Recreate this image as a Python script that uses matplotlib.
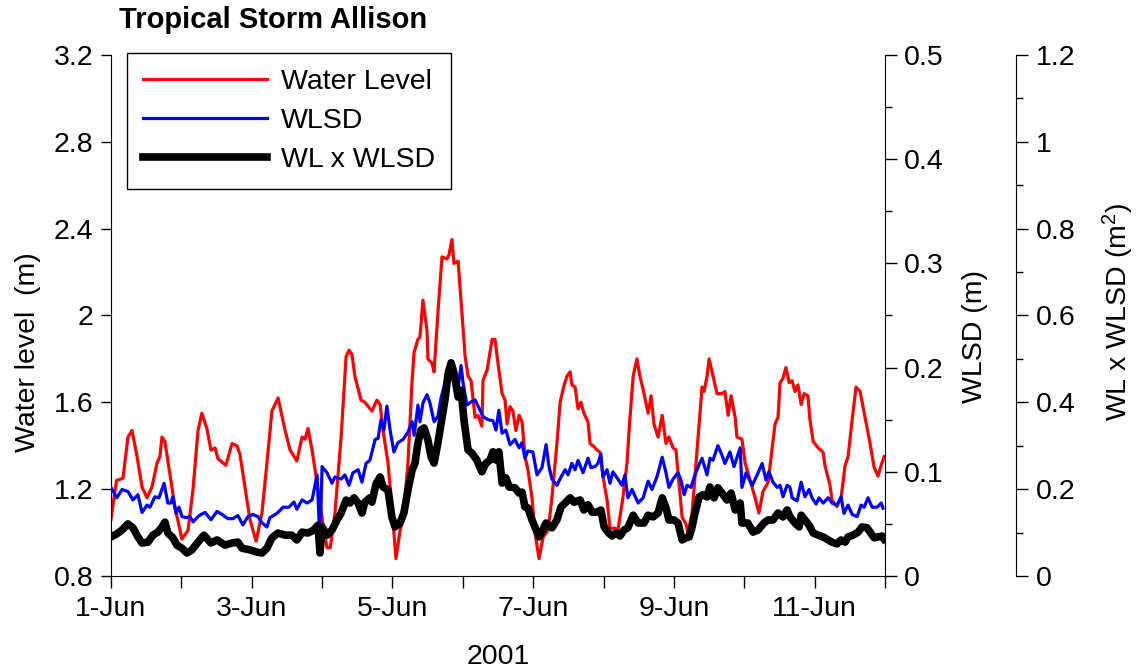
import numpy as np
import matplotlib
matplotlib.use("Agg")
import matplotlib.pyplot as plt
from matplotlib.ticker import MultipleLocator, FuncFormatter

plt.rcParams['font.family'] = ['Liberation Sans', 'DejaVu Sans']
plt.rcParams['mathtext.fontset'] = 'custom'
plt.rcParams['mathtext.rm'] = 'Liberation Sans'
plt.rcParams['mathtext.it'] = 'Liberation Sans'

# hours since 1-Jun 00:00 (2001)
wl_hours = [0.0, 1.9, 4.1, 5.8, 7.2, 8.9, 10.6, 12.3, 14.0, 15.7, 16.7, 17.4, 18.4, 20.1,
            21.8, 24.2, 26.3, 28.0, 29.7, 31.0, 32.7, 34.1, 35.5, 36.5, 39.2, 41.3, 43.0,
            44.0, 45.7, 47.4, 49.5, 51.5, 53.2, 54.9, 57.0, 59.4, 61.1, 63.4, 65.2, 66.2,
            67.2, 68.6, 70.6, 72.3, 73.7, 74.8, 76.4, 78.5, 80.2, 81.2, 82.2, 83.2, 85.3,
            86.6, 89.0, 90.7, 91.8, 92.8, 94.5, 95.8, 97.2, 98.6, 99.6, 101.3, 102.7,
            103.4, 104.7, 105.4, 106.4, 107.8, 108.1, 109.5, 110.2, 111.5, 112.9, 114.6,
            115.3, 116.3, 117.0, 118.4, 119.7, 120.8, 121.8, 122.8, 124.2, 125.2, 126.5,
            126.9, 128.3, 130.0, 131.0, 132.0, 133.4, 134.4, 135.1, 136.1, 137.1, 138.1,
            139.2, 140.2, 141.2, 142.2, 143.6, 144.6, 146.0, 147.4, 149.1, 150.4, 152.1,
            153.2, 154.2, 155.5, 156.6, 157.2, 158.3, 159.3, 160.3, 161.3, 162.7, 163.4,
            164.4, 165.8, 166.8, 167.8, 169.2, 170.2, 171.9, 172.9, 174.6, 176.0, 176.7,
            178.1, 179.4, 180.4, 181.5, 183.2, 184.2, 185.2, 186.6, 188.0, 189.3, 190.3,
            191.7, 192.7, 193.7, 194.8, 196.1, 196.8, 198.2, 199.2, 200.2, 201.6, 202.3,
            203.3, 204.0, 205.0, 206.7, 208.4, 209.4, 210.5, 211.5, 212.9, 213.5, 215.2,
            216.3, 218.0, 219.7, 221.0, 222.4, 224.1, 225.5, 226.5, 227.5, 228.2, 229.2,
            230.2, 231.3, 232.3, 233.3, 234.3, 235.4, 236.4, 237.7, 238.4, 239.5, 241.2,
            242.9, 243.5, 245.2, 245.9, 247.6, 249.0, 250.4, 251.4, 252.8, 254.1, 255.5,
            257.2, 258.9, 260.3, 261.6, 262.7, 263.7]
water_level = [1.06, 1.24, 1.25, 1.44, 1.47, 1.35, 1.21, 1.16, 1.21, 1.32, 1.35, 1.44, 1.42,
               1.27, 1.12, 0.97, 1.01, 1.20, 1.47, 1.55, 1.48, 1.38, 1.39, 1.34, 1.31, 1.41,
               1.40, 1.36, 1.21, 1.06, 0.96, 1.09, 1.32, 1.56, 1.62, 1.47, 1.38, 1.33, 1.44,
               1.43, 1.48, 1.38, 1.20, 1.04, 0.93, 0.93, 1.09, 1.44, 1.81, 1.84, 1.82, 1.72,
               1.61, 1.60, 1.56, 1.61, 1.59, 1.47, 1.32, 1.12, 0.88, 1.01, 1.06, 1.32, 1.70,
               1.83, 1.89, 1.90, 2.07, 1.93, 1.80, 1.78, 1.74, 2.01, 2.27, 2.26, 2.28, 2.35,
               2.24, 2.25, 2.01, 1.81, 1.72, 1.70, 1.53, 1.54, 1.49, 1.70, 1.75, 1.89, 1.89,
               1.78, 1.64, 1.61, 1.50, 1.58, 1.56, 1.47, 1.54, 1.51, 1.35, 1.29, 1.16, 1.00,
               0.88, 0.98, 1.01, 1.16, 1.41, 1.60, 1.66, 1.72, 1.74, 1.68, 1.67, 1.57, 1.60,
               1.55, 1.51, 1.41, 1.40, 1.38, 1.37, 1.26, 1.15, 1.02, 1.02, 1.01, 1.16, 1.32,
               1.47, 1.72, 1.80, 1.72, 1.66, 1.55, 1.63, 1.50, 1.44, 1.54, 1.41, 1.44, 1.39,
               1.38, 1.23, 1.07, 1.04, 1.00, 1.09, 1.26, 1.43, 1.67, 1.65, 1.72, 1.80, 1.74,
               1.64, 1.64, 1.65, 1.54, 1.63, 1.53, 1.44, 1.43, 1.32, 1.24, 1.16, 1.09, 1.19,
               1.23, 1.39, 1.50, 1.53, 1.69, 1.71, 1.76, 1.69, 1.70, 1.65, 1.68, 1.59, 1.64,
               1.63, 1.52, 1.42, 1.39, 1.37, 1.31, 1.22, 1.15, 1.12, 1.16, 1.31, 1.35, 1.52,
               1.67, 1.65, 1.53, 1.41, 1.30, 1.26, 1.31, 1.35]

wlsd_hours = [0.0, 2.0, 3.8, 5.8, 7.5, 9.2, 10.6, 12.3, 13.3, 15.0, 16.4, 18.1, 19.4, 20.5,
              21.1, 22.2, 23.2, 24.2, 25.9, 26.9, 28.0, 29.7, 30.7, 32.1, 34.1, 36.2, 37.9,
              39.9, 41.6, 43.3, 45.0, 46.7, 48.4, 50.1, 51.5, 53.2, 54.2, 56.6, 58.7, 60.7,
              62.4, 63.4, 65.2, 66.9, 68.6, 70.3, 71.3, 72.0, 73.7, 75.4, 76.4, 78.5, 79.8,
              81.2, 82.5, 84.3, 85.6, 87.0, 88.3, 90.1, 91.1, 92.1, 93.1, 94.1, 95.2, 96.5,
              97.9, 99.6, 101.3, 102.7, 103.4, 104.7, 105.4, 106.4, 107.8, 108.8, 110.2,
              111.5, 112.6, 113.9, 115.3, 116.3, 117.4, 118.4, 119.4, 120.1, 121.4, 122.8,
              124.2, 125.9, 126.9, 128.6, 130.3, 131.3, 132.3, 133.4, 134.7, 136.1, 137.8,
              139.2, 140.2, 141.2, 142.2, 143.9, 145.3, 147.0, 148.4, 149.4, 150.4, 152.1,
              153.5, 154.9, 155.9, 157.2, 158.3, 159.3, 161.0, 162.7, 163.7, 165.1, 166.1,
              167.1, 167.8, 169.2, 170.2, 171.2, 172.9, 174.3, 175.3, 176.3, 177.7, 179.8,
              181.5, 183.2, 184.5, 186.2, 188.0, 189.3, 190.3, 191.7, 193.4, 194.4, 195.5,
              196.5, 197.8, 199.2, 200.6, 201.6, 203.3, 204.3, 205.3, 207.0, 208.4, 209.4,
              211.1, 212.5, 214.6, 215.2, 216.6, 218.7, 220.4, 222.1, 223.4, 224.4, 225.8,
              227.2, 228.2, 229.2, 230.6, 231.6, 232.3, 234.0, 235.4, 236.7, 238.1, 239.1,
              240.5, 241.5, 242.9, 244.6, 245.9, 247.6, 249.0, 250.0, 251.4, 252.8, 254.5,
              255.8, 256.9, 258.2, 259.6, 261.3, 262.7, 263.3]
wlsd = [0.085, 0.075, 0.083, 0.081, 0.073, 0.078, 0.061, 0.068, 0.066, 0.076, 0.075, 0.089,
        0.070, 0.070, 0.076, 0.060, 0.066, 0.057, 0.056, 0.057, 0.052, 0.057, 0.059, 0.061,
        0.054, 0.062, 0.059, 0.055, 0.055, 0.058, 0.049, 0.057, 0.059, 0.057, 0.051, 0.047,
        0.056, 0.060, 0.066, 0.066, 0.071, 0.064, 0.073, 0.070, 0.073, 0.097, 0.030, 0.105,
        0.099, 0.089, 0.095, 0.093, 0.097, 0.087, 0.099, 0.102, 0.090, 0.108, 0.111, 0.131,
        0.132, 0.150, 0.140, 0.163, 0.140, 0.119, 0.128, 0.131, 0.138, 0.148, 0.135, 0.164,
        0.148, 0.166, 0.174, 0.166, 0.148, 0.153, 0.171, 0.185, 0.201, 0.205, 0.198, 0.181,
        0.202, 0.185, 0.164, 0.167, 0.169, 0.159, 0.153, 0.150, 0.149, 0.140, 0.159, 0.137,
        0.140, 0.126, 0.131, 0.123, 0.128, 0.113, 0.120, 0.119, 0.097, 0.104, 0.126, 0.105,
        0.093, 0.087, 0.095, 0.102, 0.097, 0.108, 0.102, 0.111, 0.099, 0.113, 0.104, 0.105,
        0.108, 0.117, 0.095, 0.102, 0.089, 0.100, 0.093, 0.087, 0.097, 0.075, 0.083, 0.070,
        0.075, 0.091, 0.083, 0.095, 0.114, 0.099, 0.085, 0.093, 0.099, 0.092, 0.078, 0.087,
        0.085, 0.097, 0.107, 0.113, 0.097, 0.113, 0.111, 0.125, 0.116, 0.108, 0.119, 0.105,
        0.123, 0.085, 0.099, 0.087, 0.097, 0.108, 0.092, 0.100, 0.090, 0.085, 0.087, 0.076,
        0.087, 0.085, 0.075, 0.072, 0.090, 0.076, 0.083, 0.075, 0.069, 0.075, 0.070, 0.075,
        0.070, 0.068, 0.076, 0.060, 0.068, 0.059, 0.057, 0.068, 0.066, 0.075, 0.066, 0.066,
        0.070, 0.065]

prod_hours = [0.0, 2.0, 3.8, 5.8, 7.5, 9.2, 10.6, 12.6, 14.3, 16.0, 17.4, 18.4, 19.4, 21.1,
              22.5, 24.2, 25.9, 27.6, 29.7, 31.7, 34.1, 36.2, 38.9, 41.3, 43.3, 44.7, 47.4,
              49.8, 51.5, 53.2, 54.9, 57.0, 59.4, 61.7, 63.4, 65.2, 67.2, 69.2, 70.6, 71.3,
              72.0, 73.7, 75.4, 77.1, 78.5, 80.2, 81.5, 82.9, 84.3, 85.6, 86.6, 88.3, 89.0,
              90.4, 91.8, 92.8, 94.5, 95.8, 96.9, 98.6, 99.9, 101.3, 102.7, 103.7, 104.7,
              105.7, 106.8, 108.1, 109.2, 110.2, 111.5, 112.9, 113.9, 115.0, 116.0, 117.0,
              118.4, 119.4, 120.4, 121.8, 123.1, 124.8, 126.5, 127.9, 129.3, 130.3, 131.3,
              132.3, 133.4, 134.7, 135.8, 137.8, 139.2, 140.2, 141.2, 142.2, 143.6, 145.0,
              146.0, 147.0, 148.4, 149.4, 150.4, 152.1, 153.5, 154.9, 156.6, 157.9, 160.0,
              161.3, 162.7, 164.1, 165.8, 167.1, 168.2, 169.5, 170.9, 172.3, 173.6, 175.0,
              176.3, 178.1, 179.8, 181.8, 183.2, 184.9, 186.6, 188.0, 189.3, 190.3, 192.0,
              193.4, 194.8, 196.1, 197.2, 198.2, 199.2, 200.6, 201.9, 203.3, 204.3, 205.7,
              207.0, 208.4, 210.1, 211.5, 212.9, 214.6, 215.2, 217.2, 219.0, 220.7, 222.7,
              224.1, 225.8, 227.5, 229.2, 230.6, 231.6, 233.3, 234.7, 235.4, 236.7, 238.1,
              239.5, 241.2, 242.9, 244.6, 245.9, 247.6, 249.0, 250.4, 251.4, 253.1, 254.8,
              256.2, 257.9, 258.9, 260.3, 261.6, 263.0, 263.7]
wl_x_wlsd = [0.090, 0.097, 0.106, 0.120, 0.111, 0.090, 0.076, 0.078, 0.094, 0.101, 0.113,
             0.124, 0.099, 0.088, 0.071, 0.064, 0.053, 0.060, 0.078, 0.094, 0.076, 0.083,
             0.071, 0.076, 0.078, 0.064, 0.060, 0.055, 0.053, 0.064, 0.088, 0.099, 0.094,
             0.094, 0.083, 0.101, 0.099, 0.106, 0.117, 0.053, 0.113, 0.094, 0.106, 0.129,
             0.145, 0.175, 0.168, 0.180, 0.168, 0.145, 0.170, 0.180, 0.170, 0.212, 0.228,
             0.205, 0.198, 0.136, 0.113, 0.122, 0.145, 0.198, 0.244, 0.260, 0.306, 0.336,
             0.341, 0.313, 0.274, 0.260, 0.306, 0.364, 0.405, 0.467, 0.491, 0.467, 0.412,
             0.428, 0.359, 0.290, 0.283, 0.267, 0.240, 0.260, 0.267, 0.286, 0.267, 0.286,
             0.214, 0.226, 0.205, 0.203, 0.191, 0.193, 0.159, 0.157, 0.129, 0.106, 0.090,
             0.101, 0.122, 0.115, 0.111, 0.129, 0.159, 0.168, 0.180, 0.170, 0.175, 0.152,
             0.164, 0.147, 0.147, 0.152, 0.113, 0.101, 0.092, 0.099, 0.092, 0.106, 0.111,
             0.140, 0.122, 0.122, 0.140, 0.136, 0.145, 0.180, 0.157, 0.129, 0.129, 0.122,
             0.083, 0.088, 0.090, 0.113, 0.145, 0.182, 0.187, 0.182, 0.205, 0.180, 0.203,
             0.191, 0.175, 0.191, 0.152, 0.168, 0.122, 0.122, 0.101, 0.106, 0.122, 0.129,
             0.129, 0.145, 0.136, 0.152, 0.136, 0.122, 0.113, 0.140, 0.129, 0.117, 0.099,
             0.094, 0.090, 0.083, 0.078, 0.074, 0.083, 0.078, 0.090, 0.094, 0.101, 0.113,
             0.111, 0.101, 0.088, 0.090, 0.092, 0.085]

day_ticks = np.arange(0, 265, 24)
day_labels = ['1-Jun', '', '3-Jun', '', '5-Jun', '', '7-Jun', '', '9-Jun', '', '11-Jun', '']

fs = 20.5

fig = plt.figure(figsize=(11.38, 6.71), dpi=100)
ax = fig.add_axes([0.0975, 0.1416, 0.6802, 0.7765])
ax2 = ax.twinx()
ax3 = ax.twinx()

l1, = ax.plot(wl_hours, water_level, color='#ff0000', lw=2.3)
l2, = ax2.plot(wlsd_hours, wlsd, color='#0000ff', lw=2.3)
l3, = ax3.plot(prod_hours, wl_x_wlsd, color='black', lw=5.5, solid_joinstyle='round')

ax.set_xlim(0, 264)
ax.set_ylim(0.8, 3.2)
ax2.set_ylim(0, 0.5)
ax3.set_ylim(0, 1.2)

for a in (ax, ax2, ax3):
    a.spines['top'].set_visible(False)
ax.spines['right'].set_visible(False)
ax2.spines['left'].set_visible(False)
ax2.spines['bottom'].set_visible(False)
ax3.spines['left'].set_visible(False)
ax3.spines['bottom'].set_visible(False)
ax3.spines['right'].set_position(('axes', 1.1686))

fmt = FuncFormatter(lambda v, p: '%g' % round(v, 2))
ax.set_xticks(day_ticks)
ax.set_xticklabels(day_labels)
ax.yaxis.set_major_locator(MultipleLocator(0.4))
ax.yaxis.set_major_formatter(fmt)
ax2.yaxis.set_major_locator(MultipleLocator(0.1))
ax2.yaxis.set_minor_locator(MultipleLocator(0.05))
ax2.yaxis.set_major_formatter(fmt)
ax3.yaxis.set_major_locator(MultipleLocator(0.2))
ax3.yaxis.set_minor_locator(MultipleLocator(0.1))
ax3.yaxis.set_major_formatter(fmt)

ax.tick_params(axis='x', direction='out', length=8.6, width=1, pad=6, labelsize=fs)
ax.tick_params(axis='y', direction='out', length=7.2, width=1, pad=5.5, labelsize=fs)
ax2.tick_params(axis='y', which='major', direction='out', length=8.4, width=1, pad=5, labelsize=fs)
ax2.tick_params(axis='y', which='minor', direction='out', length=4.8, width=1)
ax3.tick_params(axis='y', which='major', direction='out', length=8.6, width=1, pad=6, labelsize=fs)
ax3.tick_params(axis='y', which='minor', direction='out', length=4.8, width=1)

ax.set_xlabel('2001', fontsize=fs)
ax.xaxis.set_label_coords(0.5, -0.13)
ax.set_ylabel('Water level  (m)', fontsize=fs)
ax.yaxis.set_label_coords(-0.09, 0.43)
ax2.set_ylabel('WLSD (m)', fontsize=fs)
ax2.yaxis.set_label_coords(1.1, 0.46)
ax3.set_ylabel('WL x WLSD (m$^2$)', fontsize=fs)
ax3.yaxis.set_label_coords(1.279, 0.507)

fig.text(0.1045, 0.959, 'Tropical Storm Allison', fontsize=21, fontweight='bold',
         ha='left', va='baseline')

leg = ax3.legend([l1, l2, l3], ['Water Level', 'WLSD', 'WL x WLSD'],
                 loc='upper left', bbox_to_anchor=(0.1116, 0.921),
                 bbox_transform=fig.transFigure, fontsize=fs, handlelength=4.35,
                 fancybox=False, framealpha=1, borderaxespad=0, labelspacing=0.46,
                 borderpad=0.55, handletextpad=0.5)
leg.get_frame().set_edgecolor('black')
leg.get_frame().set_linewidth(1)

fig.savefig('out.png', dpi=100)
